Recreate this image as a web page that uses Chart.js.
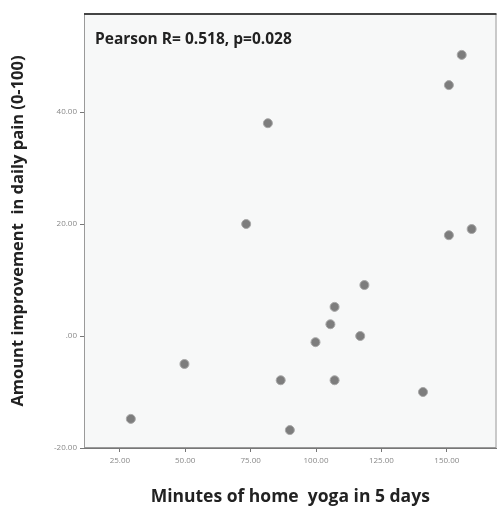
<!DOCTYPE html>
<html>
<head>
<meta charset="utf-8">
<script src="https://cdn.jsdelivr.net/npm/chart.js@4"></script>
<style>
  html, body { margin: 0; padding: 0; background: #fff; }
  #wrap { width: 502px; height: 516px; }
</style>
</head>
<body>
<div id="wrap"><canvas id="yogaChart" width="502" height="516"></canvas></div>
<script>
// Values
const yogaMinutes = [155.7, 150.8, 81.6, 73.3, 150.8, 159.5, 118.5, 107.1, 105.5, 99.8, 116.9, 49.7, 86.5, 107.1, 140.9, 29.2, 90.0];
const painImprovement = [50.2, 44.8, 38.0, 20.0, 18.0, 19.1, 9.1, 5.2, 2.1, -1.1, 0.0, -5.0, -7.9, -7.9, -10.0, -14.8, -16.8];
const xTicks = [25, 50, 75, 100, 125, 150];
const yTicks = [-20, 0, 20, 40];
const annotationText = 'Pearson R= 0.518, p=0.028';

function fmtTick(v) {
  const s = Number(v).toFixed(2);
  if (s === '0.00') return '.00';
  return s;
}

const points = yogaMinutes.map((x, i) => ({ x: x, y: painImprovement[i] }));

// plot background, frame and the correlation note
const framePlugin = {
  id: 'frame',
  beforeDraw(chart) {
    const { ctx, chartArea: a } = chart;
    ctx.save();
    ctx.fillStyle = '#f7f8f8';
    ctx.fillRect(a.left, a.top, a.right - a.left, a.bottom - a.top);
    ctx.restore();
  },
  afterDatasetsDraw(chart) {
    const { ctx, chartArea: a } = chart;
    ctx.save();
    ctx.strokeStyle = '#9a9a9a';
    ctx.lineWidth = 1;
    ctx.strokeRect(a.left + 0.5, a.top + 0.5, a.right - a.left - 1, a.bottom - a.top - 1);
    ctx.strokeStyle = '#444';
    ctx.lineWidth = 2;
    ctx.beginPath();
    ctx.moveTo(a.left, a.top);
    ctx.lineTo(a.right, a.top);
    ctx.stroke();
    ctx.fillStyle = '#222';
    ctx.font = 'bold 15.5px "Open Sans", sans-serif';
    ctx.textBaseline = 'middle';
    ctx.fillText(annotationText, a.left + 11, a.top + 26);
    ctx.restore();
  }
};

new Chart(document.getElementById('yogaChart'), {
  type: 'scatter',
  data: {
    datasets: [{
      data: points,
      backgroundColor: '#7d7d7d',
      borderColor: '#a8a8a8',
      borderWidth: 1,
      pointRadius: 4.5,
      pointHoverRadius: 4.5
    }]
  },
  options: {
    responsive: false,
    animation: false,
    layout: { padding: { top: 14, right: 3, left: 0, bottom: 0 } },
    plugins: {
      legend: { display: false },
      tooltip: { enabled: false }
    },
    scales: {
      x: {
        type: 'linear',
        min: 11.3,
        max: 169,
        afterBuildTicks(scale) { scale.ticks = xTicks.map(v => ({ value: v })); },
        afterFit(scale) { scale.height = 68; },
        grid: { display: true, drawOnChartArea: false, tickLength: 4, color: '#777' },
        border: { display: true, color: '#777' },
        ticks: {
          color: '#888',
          font: { size: 8, family: 'Open Sans' },
          padding: 4,
          maxRotation: 0,
          callback: v => fmtTick(v)
        },
        title: {
          display: true,
          text: 'Minutes of home  yoga in 5 days',
          color: '#222',
          font: { size: 17.5, family: 'Open Sans', weight: 'bold' },
          padding: { top: 12, bottom: 8 }
        }
      },
      y: {
        type: 'linear',
        min: -20,
        max: 57.5,
        afterBuildTicks(scale) { scale.ticks = yTicks.map(v => ({ value: v })); },
        afterFit(scale) { scale.width = 84; },
        grid: { display: true, drawOnChartArea: false, tickLength: 4, color: '#777' },
        border: { display: true, color: '#777' },
        ticks: {
          color: '#888',
          font: { size: 8, family: 'Open Sans' },
          padding: 3,
          callback: v => fmtTick(v)
        },
        title: {
          display: true,
          text: 'Amount improvement  in daily pain (0-100)',
          color: '#222',
          font: { size: 16.5, family: 'Open Sans', weight: 'bold' },
          padding: { top: 8, bottom: 4 }
        }
      }
    }
  },
  plugins: [framePlugin]
});
</script>
</body>
</html>
